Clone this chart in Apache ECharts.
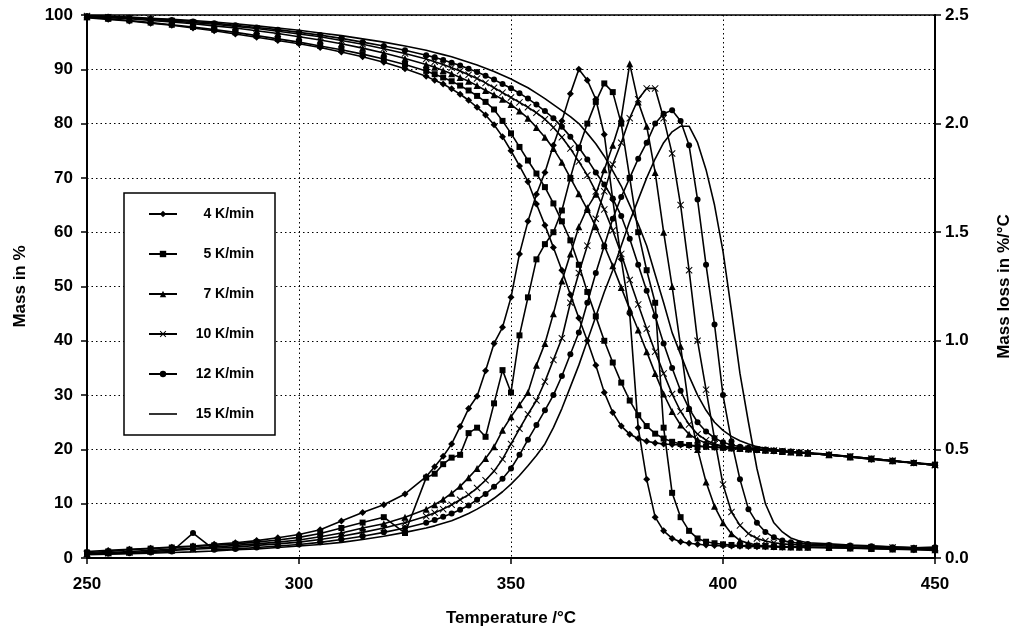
<!DOCTYPE html>
<html><head><meta charset="utf-8">
<script src="https://cdn.jsdelivr.net/npm/echarts@6/dist/echarts.min.js"></script>
<style>html,body{margin:0;padding:0;background:#fff}#c{width:1020px;height:637px}</style>
</head><body><div id="c"></div>
<script>
// Temperature grid (°C)
const temps = [250,255,260,265,270,275,280,285,290,295,300,305,310,315,320,325,330,
  332,334,336,338,340,342,344,346,348,350,352,354,356,358,360,362,364,366,368,370,372,374,376,378,380,382,384,386,388,390,392,394,396,398,400,402,404,406,408,410,412,414,416,418,420,
  425,430,435,440,445,450];

const rates = ['4 K/min','5 K/min','7 K/min','10 K/min','12 K/min','15 K/min'];
const xTicks = [250,300,350,400,450];

// Mass in % (left axis)
const mass4 = [99.5,99.2,98.9,98.5,98.1,97.6,97.1,96.5,95.9,95.3,94.7,94.0,93.2,92.3,91.3,90.1,88.7,
  88.0,87.3,86.4,85.4,84.3,83.0,81.6,79.8,77.6,75.0,72.2,69.3,65.2,61.3,57.2,53.0,48.5,44.2,40.0,35.5,30.5,26.8,24.3,22.8,22.0,21.5,21.2,21.0,20.9,20.8,20.7,20.6,20.5,20.4,20.3,20.2,20.1,20.0,19.9,19.8,19.7,19.6,19.5,19.4,19.3,
  19.0,18.6,18.2,17.9,17.5,17.1];
const mass5 = [99.6,99.3,99.0,98.6,98.2,97.8,97.3,96.8,96.2,95.6,95.0,94.3,93.6,92.8,91.9,90.9,89.7,
  89.1,88.5,87.8,87.0,86.1,85.1,84.0,82.6,80.5,78.2,75.7,73.2,70.8,68.3,65.3,62.0,58.5,54.0,49.0,44.5,40.0,36.0,32.3,29.0,26.3,24.3,22.9,22.0,21.4,21.0,20.8,20.6,20.5,20.4,20.3,20.2,20.1,20.0,19.9,19.8,19.7,19.6,19.5,19.4,19.3,
  19.0,18.7,18.3,17.9,17.5,17.2];
const mass7 = [99.7,99.5,99.3,99.0,98.7,98.4,98.0,97.6,97.1,96.6,96.0,95.4,94.7,93.9,93.0,92.0,90.9,
  90.4,89.8,89.2,88.5,87.8,87.0,86.1,85.3,84.5,83.5,82.3,81.0,79.3,77.5,75.4,72.9,70.0,67.1,64.2,61.0,57.5,53.8,49.8,45.8,42.0,38.0,34.0,30.2,27.0,24.5,22.8,21.8,21.2,20.8,20.5,20.3,20.2,20.1,20.0,19.9,19.8,19.6,19.5,19.4,19.3,
  19.0,18.6,18.3,17.9,17.6,17.2];
const mass10 = [99.8,99.6,99.4,99.2,98.9,98.6,98.3,97.9,97.5,97.0,96.5,96.0,95.3,94.6,93.8,92.9,91.9,
  91.4,90.9,90.3,89.7,89.0,88.3,87.5,86.6,85.7,84.8,83.9,83.0,82.0,80.8,79.3,77.5,75.4,73.0,70.5,67.5,64.2,60.3,56.0,51.2,46.7,42.2,38.0,34.0,30.2,27.0,24.6,22.8,21.7,21.0,20.6,20.4,20.2,20.1,20.0,19.9,19.8,19.7,19.5,19.4,19.3,
  19.0,18.7,18.3,17.9,17.5,17.1];
const mass12 = [99.8,99.7,99.5,99.3,99.1,98.8,98.5,98.1,97.7,97.3,96.8,96.3,95.7,95.0,94.3,93.5,92.6,
  92.2,91.7,91.2,90.7,90.1,89.5,88.8,88.1,87.3,86.5,85.6,84.6,83.5,82.3,81.0,79.4,77.6,75.6,73.4,71.0,68.8,66.2,63.0,58.8,54.0,49.2,44.5,39.5,35.0,30.8,27.5,25.0,23.3,22.1,21.3,20.8,20.5,20.3,20.1,20.0,19.8,19.7,19.6,19.4,19.3,
  19.0,18.6,18.2,17.8,17.5,17.1];
const mass15 = [99.9,99.8,99.6,99.4,99.2,99.0,98.7,98.4,98.0,97.6,97.2,96.7,96.2,95.6,95.0,94.3,93.5,
  93.1,92.7,92.3,91.8,91.3,90.8,90.2,89.6,88.9,88.2,87.4,86.6,85.6,84.6,83.5,82.4,81.3,80.0,78.2,76.3,74.0,71.3,68.5,65.0,61.5,57.5,52.2,47.0,41.5,37.5,33.5,30.0,27.2,25.0,23.5,22.4,21.6,21.0,20.5,20.2,20.0,19.8,19.6,19.5,19.4,
  19.1,18.7,18.3,17.9,17.5,17.1];

// Mass loss in %/°C (right axis)
const loss4 = [0.03,0.035,0.04,0.045,0.05,0.055,0.063,0.07,0.08,0.093,0.108,0.13,0.17,0.21,0.245,0.295,0.375,
  0.42,0.468,0.525,0.605,0.688,0.745,0.862,0.988,1.062,1.2,1.4,1.55,1.675,1.775,1.9,2.012,2.138,2.25,2.2,2.112,1.95,1.65,1.375,1.125,0.6,0.362,0.188,0.125,0.09,0.075,0.068,0.063,0.06,0.058,0.056,0.055,0.054,0.053,0.052,0.052,0.051,0.05,0.05,0.049,0.048,
  0.047,0.045,0.043,0.041,0.038,0.035];
const loss5 = [0.025,0.03,0.038,0.043,0.048,0.053,0.058,0.065,0.073,0.083,0.095,0.113,0.138,0.163,0.188,0.115,0.37,
  0.388,0.432,0.462,0.475,0.575,0.6,0.558,0.712,0.865,0.762,1.025,1.2,1.375,1.445,1.5,1.6,1.75,1.888,2.0,2.1,2.185,2.145,2.0,1.75,1.5,1.325,1.175,0.6,0.3,0.188,0.125,0.09,0.075,0.068,0.063,0.06,0.058,0.057,0.056,0.055,0.054,0.053,0.052,0.051,0.05,
  0.049,0.047,0.045,0.043,0.041,0.045];
const loss7 = [0.02,0.025,0.03,0.035,0.04,0.045,0.05,0.058,0.065,0.073,0.083,0.098,0.115,0.138,0.158,0.188,0.225,
  0.245,0.27,0.298,0.33,0.37,0.412,0.458,0.512,0.588,0.65,0.705,0.762,0.888,0.988,1.125,1.275,1.4,1.525,1.612,1.675,1.788,1.9,2.025,2.275,2.1,1.988,1.775,1.5,1.25,0.975,0.688,0.5,0.35,0.238,0.162,0.112,0.08,0.068,0.06,0.055,0.053,0.052,0.051,0.05,0.05,
  0.048,0.046,0.044,0.042,0.04,0.038];
const loss10 = [0.02,0.022,0.025,0.03,0.035,0.04,0.045,0.05,0.058,0.065,0.073,0.085,0.1,0.118,0.138,0.162,0.192,
  0.208,0.225,0.245,0.268,0.292,0.322,0.358,0.4,0.455,0.525,0.595,0.662,0.725,0.812,0.912,1.012,1.175,1.312,1.438,1.562,1.688,1.812,1.912,2.025,2.112,2.162,2.162,2.025,1.862,1.625,1.325,1.0,0.775,0.55,0.338,0.212,0.15,0.112,0.09,0.078,0.07,0.065,0.062,0.06,0.058,
  0.055,0.052,0.05,0.048,0.045,0.042];
const loss12 = [0.018,0.02,0.022,0.025,0.03,0.115,0.038,0.042,0.048,0.055,0.062,0.072,0.085,0.1,0.118,0.138,0.162,
  0.175,0.19,0.205,0.222,0.242,0.268,0.295,0.328,0.365,0.412,0.475,0.545,0.612,0.68,0.75,0.838,0.938,1.038,1.175,1.312,1.438,1.562,1.662,1.75,1.838,1.912,2.0,2.045,2.062,2.012,1.9,1.65,1.35,1.075,0.75,0.538,0.362,0.225,0.162,0.12,0.095,0.08,0.072,0.068,0.065,
  0.06,0.057,0.054,0.05,0.047,0.05];
const loss15 = [0.015,0.018,0.02,0.022,0.025,0.028,0.032,0.038,0.042,0.048,0.055,0.062,0.072,0.085,0.1,0.118,0.138,
  0.148,0.16,0.172,0.188,0.205,0.225,0.248,0.275,0.305,0.34,0.38,0.425,0.472,0.525,0.6,0.688,0.788,0.888,1.0,1.112,1.225,1.325,1.438,1.55,1.65,1.75,1.838,1.912,1.962,1.988,1.988,1.912,1.788,1.625,1.412,1.138,0.85,0.625,0.412,0.25,0.162,0.12,0.092,0.078,0.07,
  0.065,0.06,0.056,0.052,0.048,0.045];

const massSeries = [mass4, mass5, mass7, mass10, mass12, mass15];
const lossSeries = [loss4, loss5, loss7, loss10, loss12, loss15];

const xPath = 'path://M0,1L1,0L5,4L9,0L10,1L6,5L10,9L9,10L5,6L1,10L0,9L4,5Z';
const symbols = ['diamond','rect','triangle', xPath, 'circle', 'none'];
const symSizes = [7,6,7,7,6,0];
const FONT = '"Liberation Sans", Arial, sans-serif';

function pairs(arr){ return temps.map((t,i)=>[t, arr[i]]); }

const series = [];
rates.forEach((name, k) => {
  const common = {
    name: name, type: 'line', symbol: symbols[k], symbolSize: symSizes[k],
    showSymbol: symbols[k] !== 'none',
    lineStyle: {color: '#000', width: 1.6},
    itemStyle: {color: '#000', borderColor: '#000', borderWidth: 0},
    emphasis: {disabled: true}, silent: true, animation: false
  };
  series.push(Object.assign({}, common, {yAxisIndex: 0, data: pairs(massSeries[k])}));
  series.push(Object.assign({}, common, {yAxisIndex: 1, data: pairs(lossSeries[k])}));
});

const legendData = rates.map((n, k) => symbols[k] === 'none'
  ? {name: n, icon: 'path://M0,0L28,0L28,1.6L0,1.6Z'}
  : n);

const axisLabelStyle = {color: '#000', fontWeight: 'bold', fontSize: 17, fontFamily: FONT};
const nameStyle = {color: '#000', fontWeight: 'bold', fontSize: 17, fontFamily: FONT};

const chart = echarts.init(document.getElementById('c'), null, {renderer: 'canvas'});
chart.setOption({
  animation: false,
  backgroundColor: '#fff',
  grid: {left: 87, right: 85, top: 15, bottom: 79, show: true, borderColor: '#000', borderWidth: 1.5,
         backgroundColor: 'transparent', containLabel: false, outerBoundsMode: 'none'},
  legend: {
    data: legendData, orient: 'vertical', left: 124, top: 193,
    itemWidth: 28, itemHeight: 8, itemGap: 26,
    padding: [14, 21, 14, 24],
    backgroundColor: '#fff', borderColor: '#000', borderWidth: 1.5,
    selectedMode: false, symbolKeepAspect: true,
    formatter: n => '{t|' + n + '}',
    textStyle: {rich: {t: {width: 72, align: 'right', fontSize: 14, fontWeight: 'bold', color: '#000', fontFamily: FONT}}}
  },
  xAxis: {
    type: 'value', min: xTicks[0], max: xTicks[xTicks.length-1], interval: 50,
    name: 'Temperature /°C', nameLocation: 'middle', nameGap: 52, nameTextStyle: nameStyle,
    axisLine: {show: true, onZero: false, lineStyle: {color: '#000', width: 2}},
    axisTick: {show: true, length: 6, lineStyle: {color: '#000', width: 1.5}},
    axisLabel: Object.assign({margin: 18}, axisLabelStyle),
    splitLine: {show: true, lineStyle: {color: '#000', type: [1.5, 3], width: 1}}
  },
  yAxis: [{
    type: 'value', min: 0, max: 100, interval: 10, position: 'left',
    name: 'Mass in %', nameLocation: 'middle', nameGap: 58, nameRotate: 90, nameTextStyle: nameStyle,
    axisLine: {show: true, lineStyle: {color: '#000', width: 2}},
    axisTick: {show: true, length: 6, lineStyle: {color: '#000', width: 1.5}},
    axisLabel: Object.assign({margin: 14}, axisLabelStyle),
    splitLine: {show: true, lineStyle: {color: '#000', type: [1.5, 3], width: 1}}
  }, {
    type: 'value', min: 0, max: 2.5, interval: 0.5, position: 'right',
    name: 'Mass loss in %/°C', nameLocation: 'middle', nameGap: 61, nameRotate: 90, nameTextStyle: nameStyle,
    axisLine: {show: true, lineStyle: {color: '#000', width: 2}},
    axisTick: {show: true, length: 6, lineStyle: {color: '#000', width: 1.5}},
    axisLabel: Object.assign({margin: 10, formatter: v => v.toFixed(1)}, axisLabelStyle),
    splitLine: {show: false}
  }],
  series: series
});
</script></body></html>
